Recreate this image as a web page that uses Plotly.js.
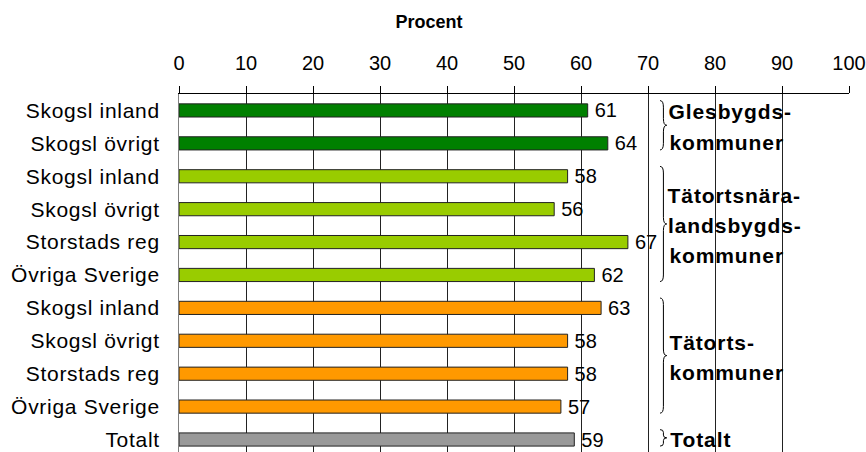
<!DOCTYPE html>
<html><head><meta charset="utf-8">
<script src="https://cdn.plot.ly/plotly-3.0.1.min.js"></script>
<style>html,body{margin:0;padding:0;background:#fff}#c{width:866px;height:452px}
#c .ytick text{letter-spacing:0.7px}
#c .annotation-text{letter-spacing:0.9px}
</style>
</head><body><div id="c"></div>
<script>
const categories = ['Skogsl inland','Skogsl övrigt','Skogsl inland','Skogsl övrigt','Storstads reg','Övriga Sverige','Skogsl inland','Skogsl övrigt','Storstads reg','Övriga Sverige','Totalt'];
const values = [61,64,58,56,67,62,63,58,58,57,59];
const groupOf = [0,0,1,1,1,1,2,2,2,2,3];
const groupLabels = [['Glesbygds-','kommuner'],['Tätortsnära-','landsbygds-','kommuner'],['Tätorts-','kommuner'],['Totalt']];
const groupColors = ['#008000','#99CC00','#FF9900','#999999'];
const xTicks = [0,10,20,30,40,50,60,70,80,90,100];

const pos = categories.map((_,i)=>i);
const FONT = 'Liberation Sans, Arial, sans-serif';

const trace = {
  type:'bar', orientation:'h', x: values, y: pos,
  width: 0.4,
  marker:{color: groupOf.map(g=>groupColors[g]), line:{color:'#222', width:1}},
  text: values.map(v=>'\u2009'+v), textposition:'outside', cliponaxis:false, constraintext:'none',
  textfont:{family:FONT, size:20, color:'#000'},
  hoverinfo:'skip'
};

const shapes = [];
const annotations = [];
const bx0 = 71.8, bw = 1.0;
groupLabels.forEach((lines,g)=>{
  const idx = pos.filter(i=>groupOf[i]===g);
  const s = Math.min(...idx), e = Math.max(...idx);
  const top = s - 0.3, bot = e + 0.2, mid = (top+bot)/2;
  const r = Math.min(0.2, (bot-top)/6);
  const xm = bx0 + bw/2, xt = bx0 + bw;
  const path = `M ${bx0},${top} Q ${xm},${top} ${xm},${top+r} L ${xm},${mid-r} Q ${xm},${mid} ${xt},${mid} Q ${xm},${mid} ${xm},${mid+r} L ${xm},${bot-r} Q ${xm},${bot} ${bx0},${bot}`;
  shapes.push({type:'path', xref:'x', yref:'y', path, line:{color:'#000', width:1}, layer:'above'});
  const c = (s+e)/2;
  const sp = 0.92;
  lines.forEach((t,k)=>{
    annotations.push({xref:'x', yref:'y', x:73.4, y: c + (k-(lines.length-1)/2)*sp,
      text:'<b>'+t+'</b>', showarrow:false, xanchor:'left', yanchor:'middle',
      font:{family:FONT, size:21, color:'#000'}});
  });
});

const layout = {
  width:866, height:452,
  margin:{l:179, r:17, t:94, b:0},
  paper_bgcolor:'#fff', plot_bgcolor:'#fff',
  showlegend:false,
  title:{text:'<b>Procent</b>', font:{family:FONT, size:18, color:'#000'}, xref:'container', x:429/866, xanchor:'center', yref:'container', y:1-22/452, yanchor:'middle'},
  xaxis:{side:'top', range:[0,100], tickvals:xTicks, ticktext:xTicks.map(String),
    showgrid:true, gridcolor:'#222', gridwidth:1, zeroline:false,
    showline:true, linecolor:'#000', linewidth:1, mirror:false,
    ticks:'outside', ticklen:7, tickcolor:'#000', tickwidth:1,
    ticklabelstandoff:8,
    tickfont:{family:FONT, size:20, color:'#000'}, fixedrange:true},
  yaxis:{range:[10.38,-0.5], tickvals:pos, ticktext:categories,
    showgrid:false, zeroline:false, showline:true, linecolor:'#808080', linewidth:1,
    ticks:'', ticklabelstandoff:14,
    tickfont:{family:FONT, size:21, color:'#000'}, fixedrange:true},
  shapes, annotations,
  bargap:0.6
};
Plotly.newPlot('c',[trace],layout,{displayModeBar:false, staticPlot:true});
</script></body></html>
